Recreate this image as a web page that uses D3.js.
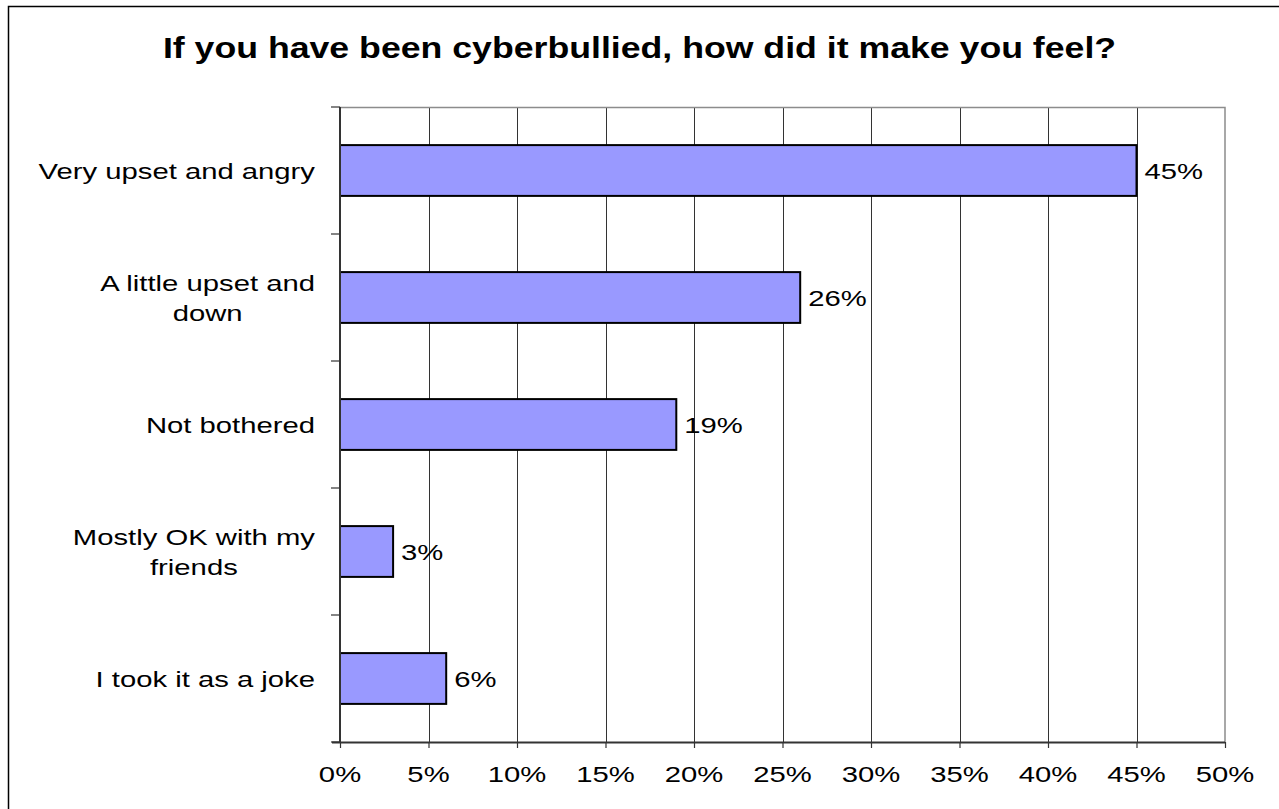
<!DOCTYPE html>
<html>
<head>
<meta charset="utf-8">
<script src="https://cdn.jsdelivr.net/npm/d3@7"></script>
<style>
  html, body { margin: 0; padding: 0; background: #fff; }
  svg { display: block; }
  text { font-family: "Liberation Sans", Arial, sans-serif; fill: #000; }
</style>
</head>
<body>
<svg id="chart" width="1279" height="809"></svg>
<script>
// Survey responses
const title = "If you have been cyberbullied, how did it make you feel?";
const categories = [
  ["Very upset and angry"],
  ["A little upset and", "down"],
  ["Not bothered"],
  ["Mostly OK with my", "friends"],
  ["I took it as a joke"]
];
const values = [45, 26, 19, 3, 6];
const xTicks = [0, 5, 10, 15, 20, 25, 30, 35, 40, 45, 50];

const W = 1279, H = 809;
const plot = { left: 340, right: 1225, top: 107, bottom: 742 };
const stretch = 1.33;      // wide-set lettering
const titleStretch = 1.23;

const svg = d3.select("#chart");

// outer frame
svg.append("rect")
  .attr("x", 8.5).attr("y", 6.5)
  .attr("width", W + 20).attr("height", H + 20)
  .attr("fill", "none").attr("stroke", "#000").attr("stroke-width", 1.5);

const x = d3.scaleLinear().domain([0, 50]).range([plot.left, plot.right]);
const y = d3.scaleBand()
  .domain(d3.range(categories.length))
  .range([plot.top, plot.bottom])
  .paddingInner(0.6).paddingOuter(0.3);
const yBand = d3.scaleBand()
  .domain(d3.range(categories.length))
  .range([plot.top, plot.bottom]);

// stretched text helper
function stext(parent, tx, ty, str, size, anchor, weight, sx) {
  const g = parent.append("g").attr("transform", `translate(${tx},${ty}) scale(${sx || stretch},1)`);
  g.append("text")
    .attr("text-anchor", anchor)
    .attr("font-size", size)
    .attr("font-weight", weight || "normal")
    .text(str);
  return g;
}

// vertical gridlines
svg.append("g")
  .selectAll("line")
  .data(xTicks.filter(t => t > 0 && t < 50))
  .join("line")
  .attr("x1", d => Math.round(x(d)) + 0.5).attr("x2", d => Math.round(x(d)) + 0.5)
  .attr("y1", plot.top).attr("y2", plot.bottom)
  .attr("stroke", "#333").attr("stroke-width", 1);

// plot border (top / right)
svg.append("path")
  .attr("d", `M${plot.left},${plot.top + 0.5}H${plot.right}V${plot.bottom}`)
  .attr("fill", "none").attr("stroke", "#8c8c8c").attr("stroke-width", 1.5);

// bars
svg.append("g")
  .selectAll("rect")
  .data(values)
  .join("rect")
  .attr("x", x(0))
  .attr("y", (d, i) => y(i))
  .attr("width", d => x(d) - x(0))
  .attr("height", y.bandwidth())
  .attr("fill", "#9999ff")
  .attr("stroke", "#000").attr("stroke-width", 2);

// x axis
const xAxis = d3.axisBottom(x).tickValues(xTicks).tickSize(6).tickFormat(() => "");
const gx = svg.append("g").attr("transform", `translate(0,${plot.bottom})`).call(xAxis);
gx.select(".domain").attr("d", `M${plot.left - 8},0.5H${plot.right}`).attr("stroke", "#333").attr("stroke-width", 2);
gx.selectAll(".tick line").attr("stroke", "#333").attr("stroke-width", 1.2);
xTicks.forEach(t => stext(svg, x(t), plot.bottom + 40, t + "%", 22, "middle"));

// y axis with ticks at category boundaries
svg.append("line")
  .attr("x1", plot.left).attr("x2", plot.left)
  .attr("y1", plot.top).attr("y2", plot.bottom)
  .attr("stroke", "#333").attr("stroke-width", 2);
const bounds = d3.range(categories.length + 1).map(i => i < categories.length ? yBand(i) : plot.bottom);
svg.append("g").selectAll("line")
  .data(bounds)
  .join("line")
  .attr("x1", plot.left - 9).attr("x2", plot.left)
  .attr("y1", d => d).attr("y2", d => d)
  .attr("stroke", "#333").attr("stroke-width", 1.2);

// category labels
const labelRight = plot.left - 25;
categories.forEach((lines, i) => {
  const cy = yBand(i) + yBand.bandwidth() / 2;
  const lh = 30;
  const g = svg.append("g");
  if (lines.length === 1) {
    stext(g, labelRight, cy + 8, lines[0], 22, "end");
  } else {
    // multi-line: centred block, right edge near the axis
    const probe = svg.append("text").attr("font-size", 22).text(lines[0]);
    const w = probe.node().getComputedTextLength() * stretch;
    probe.remove();
    const cx = labelRight - w / 2;
    lines.forEach((ln, k) => {
      stext(g, cx, cy + 8 + (k - (lines.length - 1) / 2) * lh, ln, 22, "middle");
    });
  }
});

// value labels
values.forEach((v, i) => {
  stext(svg, x(v) + 8, y(i) + y.bandwidth() / 2 + 8, v + "%", 22, "start");
});

// title
stext(svg, W / 2, 58, title, 29, "middle", "bold", titleStretch);
</script>
</body>
</html>
